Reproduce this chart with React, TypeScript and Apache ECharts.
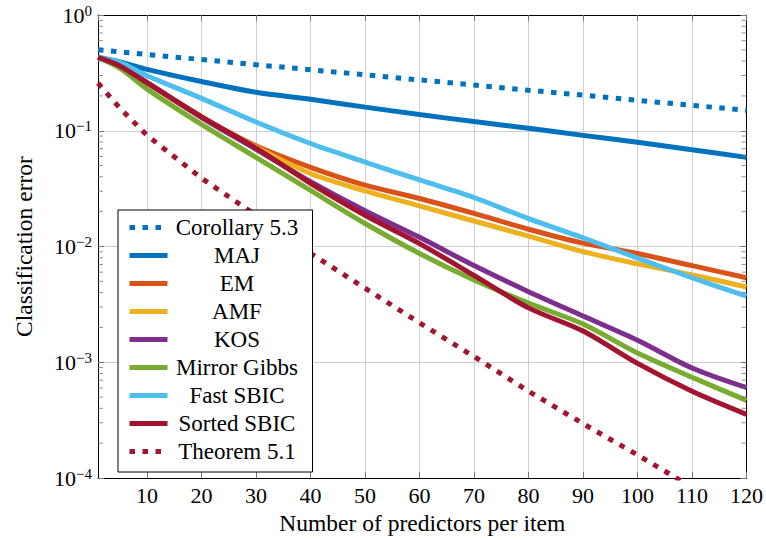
import React, { useEffect, useRef } from 'react';
import * as echarts from 'echarts';

// x positions (number of predictors per item) where values were read
const xValues = [1, 5, 10, 20, 30, 40, 50, 60, 70, 80, 90, 100, 110, 120];

const corollary53 = [0.5, 0.48, 0.456, 0.412, 0.372, 0.337, 0.304, 0.275, 0.248, 0.224, 0.203, 0.183, 0.166, 0.15];
const maj = [0.43, 0.394, 0.339, 0.266, 0.215, 0.187, 0.16, 0.138, 0.12, 0.105, 0.0912, 0.0794, 0.0684, 0.0589];
const em = [0.43, 0.363, 0.26, 0.132, 0.0741, 0.0483, 0.0339, 0.026, 0.0193, 0.0141, 0.0107, 0.0087, 0.00684, 0.00537];
const amf = [0.43, 0.363, 0.26, 0.132, 0.0724, 0.0427, 0.0302, 0.0224, 0.0166, 0.0123, 0.00902, 0.00708, 0.00569, 0.00447];
const kos = [0.43, 0.363, 0.26, 0.13, 0.0692, 0.0363, 0.0204, 0.012, 0.00684, 0.00407, 0.00251, 0.00155, 0.000891, 0.000603];
const mirrorGibbs = [0.43, 0.347, 0.229, 0.1135, 0.0589, 0.0305, 0.0158, 0.0087, 0.00513, 0.00324, 0.00214, 0.0012, 0.000741, 0.000468];
const fastSbic = [0.43, 0.389, 0.2985, 0.1905, 0.119, 0.0776, 0.0537, 0.0376, 0.0265, 0.0174, 0.0119, 0.00794, 0.00537, 0.00372];
const sortedSbic = [0.43, 0.363, 0.259, 0.132, 0.0708, 0.0351, 0.0186, 0.0106, 0.00562, 0.00295, 0.00186, 0.000977, 0.000562, 0.000355];
const theorem51 = [0.258, 0.157, 0.0912, 0.0389, 0.0186, 0.00871, 0.00437, 0.00219, 0.00112, 0.000562, 0.000295, 0.000158, 0.0000832, 0.0000437];

const seriesNames = ['Corollary 5.3', 'MAJ', 'EM', 'AMF', 'KOS', 'Mirror Gibbs', 'Fast SBIC', 'Sorted SBIC', 'Theorem 5.1'];
const seriesValues = [corollary53, maj, em, amf, kos, mirrorGibbs, fastSbic, sortedSbic, theorem51];
const seriesColors = ['#0072BD', '#0072BD', '#D95319', '#EDB120', '#7E2F8E', '#77AC30', '#4DBEEE', '#A2142F', '#A2142F'];
const seriesDotted = [true, false, false, false, false, false, false, false, true];

// log-axis minor tick positions
const minorMultipliers = [2, 3, 4, 5, 6, 7, 8, 9];
const decades = [1e-4, 1e-3, 1e-2, 1e-1];

const FONT = 'Liberation Serif, serif';

export default function App() {
  const ref = useRef<HTMLDivElement>(null);

  useEffect(() => {
    if (!ref.current) return;
    const chart = echarts.init(ref.current, undefined, { renderer: 'svg' });

    const minorVals: number[] = [];
    decades.forEach((d) => minorMultipliers.forEach((m) => minorVals.push(+(m * d).toPrecision(6))));

    const lineSeries = seriesNames.map((name, i) => ({
      name,
      type: 'line',
      data: xValues.map((x, j) => [x, seriesValues[i][j]]),
      symbol: 'none',
      showSymbol: false,
      clip: true,
      smooth: seriesDotted[i] ? false : 0.3,
      color: seriesColors[i],
      lineStyle: {
        color: seriesColors[i],
        width: 5,
        type: seriesDotted[i] ? [5.5, 7.5] : 'solid',
        cap: 'butt',
      },
      z: 2,
    }));

    const tickSeries = [
      {
        name: 'minorLeft',
        type: 'scatter',
        data: minorVals.map((v) => [1, v]),
        symbol: 'rect',
        symbolSize: [5, 1],
        symbolOffset: [2.5, 0],
        itemStyle: { color: '#777' },
        silent: true,
        clip: false,
        z: 3,
      },
      {
        name: 'minorRight',
        type: 'scatter',
        data: minorVals.map((v) => [120, v]),
        symbol: 'rect',
        symbolSize: [5, 1],
        symbolOffset: [-2.5, 0],
        itemStyle: { color: '#777' },
        silent: true,
        clip: false,
        z: 3,
      },
    ];

    const xCommon = {
      type: 'value',
      min: 1,
      max: 120,
      splitNumber: 12,
      axisLine: { show: true, onZero: false, lineStyle: { color: '#000', width: 1 } },
      axisTick: { show: true, inside: true, length: 6, lineStyle: { color: '#777' } },
    };
    const yCommon = {
      type: 'log',
      logBase: 10,
      min: 1e-4,
      max: 1,
      axisLine: { show: true, onZero: false, lineStyle: { color: '#000', width: 1 } },
      axisTick: { show: true, inside: true, length: 6, lineStyle: { color: '#777' } },
    };

    chart.setOption({
      animation: false,
      backgroundColor: '#fff',
      textStyle: { fontFamily: FONT },
      grid: { left: 98, right: 19, top: 15, bottom: 62, containLabel: false },
      legend: {
        data: seriesNames,
        orient: 'vertical',
        left: 118,
        top: 210,
        padding: [6, 11, 9, 9],
        itemGap: 5,
        itemWidth: 38,
        itemHeight: 14,
        backgroundColor: '#fff',
        borderColor: '#000',
        borderWidth: 1,
        borderRadius: 0,
        selectedMode: false,
        lineStyle: { width: 5 },
        itemStyle: { color: 'rgba(0,0,0,0)', borderWidth: 0, opacity: 0 },
        formatter: '{c|{name}}',
        textStyle: {
          fontFamily: FONT,
          fontSize: 23,
          color: '#000',
          rich: {
            c: { width: 129, align: 'center', fontSize: 23, lineHeight: 22, fontFamily: FONT, color: '#000' },
          },
        },
      },
      xAxis: [
        {
          ...xCommon,
          position: 'bottom',
          axisLabel: { showMinLabel: false, fontSize: 22, color: '#000', margin: 6, fontFamily: FONT },
          splitLine: { show: true, lineStyle: { color: '#cfcfcf', width: 1 } },
          name: 'Number of predictors per item',
          nameLocation: 'middle',
          nameGap: 31,
          nameTextStyle: { fontSize: 23.5, color: '#000', fontFamily: FONT },
        },
        {
          ...xCommon,
          position: 'top',
          axisLabel: { show: false },
          splitLine: { show: false },
        },
      ],
      yAxis: [
        {
          ...yCommon,
          position: 'left',
          axisLabel: {
            margin: 6,
            color: '#000',
            fontFamily: FONT,
            formatter: (value: number) => {
              const e = Math.round(Math.log10(value));
              const sup = e === 0 ? '0' : '\u2212' + String(-e);
              return '{b|10}{s|' + sup + '}';
            },
            rich: {
              b: { fontSize: 22, lineHeight: 24, fontFamily: FONT, color: '#000' },
              s: { fontSize: 15, lineHeight: 15, verticalAlign: 'top', fontFamily: FONT, color: '#000' },
            },
          },
          splitLine: { show: true, lineStyle: { color: '#cfcfcf', width: 1 } },
          name: 'Classification error',
          nameLocation: 'middle',
          nameGap: 62,
          nameTextStyle: { fontSize: 23.5, color: '#000', fontFamily: FONT },
        },
        {
          ...yCommon,
          position: 'right',
          axisLabel: { show: false },
          splitLine: { show: false },
        },
      ],
      series: [...lineSeries, ...tickSeries],
    });

    return () => {
      chart.dispose();
    };
  }, []);

  return (
    <div
      ref={ref}
      style={{ position: 'fixed', left: 0, top: 0, width: 766, height: 540, background: '#fff' }}
    />
  );
}
